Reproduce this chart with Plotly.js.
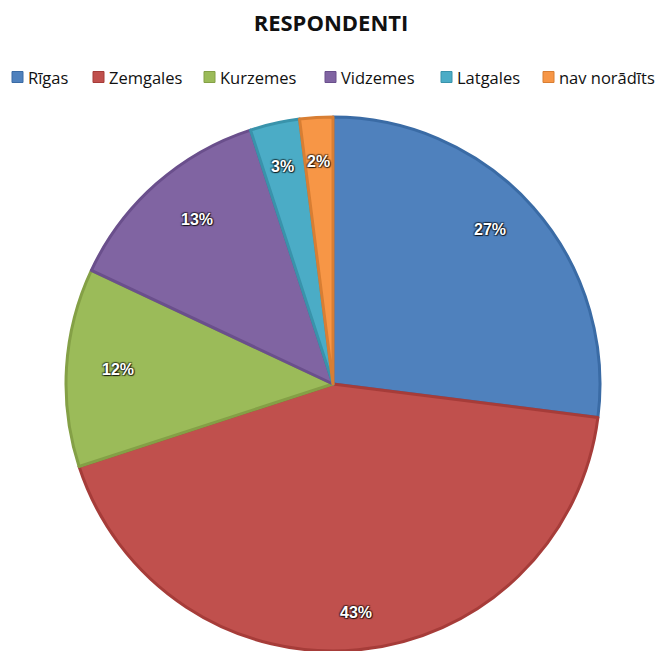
<!DOCTYPE html>
<html>
<head>
<meta charset="utf-8">
<script src="https://cdn.plot.ly/plotly-3.0.1.min.js"></script>
<style>html,body{margin:0;padding:0;background:#fff;}#chart{width:662px;height:651px;}</style>
</head>
<body>
<div id="chart"></div>
<script>
const categories = ["Rīgas", "Zemgales", "Kurzemes", "Vidzemes", "Latgales", "nav norādīts"];
const values = [27, 43, 12, 13, 3, 2];
const labelsText = ["27%", "43%", "12%", "13%", "3%", "2%"];
const colors = ["#4F81BD", "#C0504D", "#9BBB59", "#8064A2", "#4BACC6", "#F79646"];
const borderColors = ["#3A6BA5", "#A63C39", "#84A046", "#6A4F8C", "#3993AB", "#D87E33"];

const W = 662, H = 651;
const cx = 333, cy = 384, R = 267;
const domX = [(cx - R) / W, (cx + R) / W];
const domY = [1 - (cy + R) / H, 1 - (cy - R) / H];

const total = values.reduce((a, b) => a + b, 0);
const annotations = [];
const shapes = [];
let cum = 0;
values.forEach((v, i) => {
  const mid = (cum + v / 2) / total;
  cum += v;
  const th = 2 * Math.PI * mid;
  const rr = (i === 1 ? 0.9 : 0.875) * R;
  const px = cx + rr * Math.sin(th);
  const py = cy - rr * Math.cos(th);
  annotations.push({
    x: px / W, y: 1 - py / H, xref: 'paper', yref: 'paper',
    text: labelsText[i], showarrow: false,
    font: {family: 'Liberation Sans, Arial, sans-serif', size: 16, color: '#ffffff', weight: 'bold',
           shadow: '1px 1px 1px rgba(0,0,0,0.75), -1px -1px 1px rgba(0,0,0,0.45), 1px -1px 1px rgba(0,0,0,0.45), -1px 1px 1px rgba(0,0,0,0.45)'}
  });
});

// legend layout (pixel positions of legend squares)
const legendSquareX = [12, 93, 204, 325, 441, 543];
const legendY = 77, sq = 11;
categories.forEach((c, i) => {
  const x0 = legendSquareX[i];
  shapes.push({
    type: 'rect', xref: 'paper', yref: 'paper',
    x0: x0 / W, x1: (x0 + sq) / W,
    y0: 1 - (legendY + sq / 2) / H, y1: 1 - (legendY - sq / 2) / H,
    fillcolor: colors[i], line: {color: borderColors[i], width: 1}
  });
  annotations.push({
    x: (x0 + sq + 3) / W, y: 1 - legendY / H, xref: 'paper', yref: 'paper',
    xanchor: 'left', yanchor: 'middle', showarrow: false, text: c,
    font: {family: 'Open Sans, sans-serif', size: 16.5, color: '#111111'}
  });
});

const trace = {
  type: 'pie',
  labels: categories,
  values: values,
  sort: false,
  direction: 'clockwise',
  rotation: 0,
  textinfo: 'none',
  hoverinfo: 'label+percent',
  marker: {colors: colors, line: {color: borderColors, width: 3}},
  domain: {x: domX, y: domY}
};

const layout = {
  width: W, height: H,
  margin: {l: 0, r: 0, t: 0, b: 0},
  paper_bgcolor: '#ffffff',
  title: {text: '<b>RESPONDENTI</b>', x: 0.5, xanchor: 'center', y: 1 - 23 / H, yanchor: 'middle',
          font: {family: 'Open Sans, sans-serif', size: 22, color: '#111111'}},
  showlegend: false,
  annotations: annotations,
  shapes: shapes
};

Plotly.newPlot('chart', [trace], layout, {displayModeBar: false, staticPlot: true});
</script>
</body>
</html>
